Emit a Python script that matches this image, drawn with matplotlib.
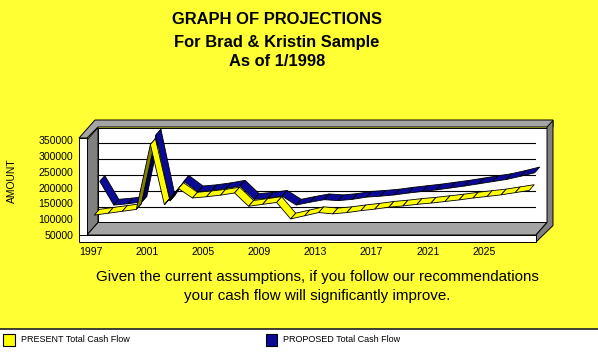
import matplotlib
matplotlib.use('Agg')
import matplotlib.pyplot as plt
import matplotlib.transforms as mtransforms
from matplotlib.patches import Polygon, Rectangle
from matplotlib.lines import Line2D
import numpy as np

# ---------------- data ----------------
years = list(range(1997, 2029))
present = [112000, 118000, 124000, 130000, 335000, 145000, 196000, 166000,
           170000, 175000, 182000, 140000, 146000, 152000, 100000, 110000,
           120000, 116000, 120000, 126000, 131000, 137000, 141000, 146000,
           150000, 155000, 160000, 166000, 171000, 176000, 183000, 190000]
proposed = [199000, 124000, 128000, 134000, 345000, 137000, 199000, 166000,
            170000, 176000, 184000, 142000, 146000, 152000, 124000, 133000,
            141000, 138000, 142000, 149000, 152000, 156000, 162000, 167000,
            172000, 178000, 184000, 191000, 198000, 205000, 215000, 226000]
tick_years = [1997, 2001, 2005, 2009, 2013, 2017, 2021, 2025]
y_ticks = [50000, 100000, 150000, 200000, 250000, 300000, 350000]
series_names = ['PRESENT Total Cash Flow', 'PROPOSED Total Cash Flow']
title_lines = ['GRAPH OF PROJECTIONS', 'For Brad & Kristin Sample', 'As of 1/1998']
note_lines = ['Given the current assumptions, if you follow our recommendations',
              'your cash flow will significantly improve.']

# ---------------- style ----------------
W, H = 598, 354
BG = '#FFFF33'
YEL, YEL_DARK = '#FFFF00', '#808000'
BLU, BLU_DARK = '#0A0A96', '#000050'
HATCH = '#A4A4A4'
SIDE = '#808080'
FONT = 'Liberation Sans'
DEPTH = (11.0, 12.5)   # pixel offset of back plane relative to front plane

plt.rcParams['font.family'] = [FONT, 'DejaVu Sans']

fig = plt.figure(figsize=(W / 100, H / 100), dpi=100)
fig.patch.set_facecolor(BG)


def fx(px):
    return px / W


def fy(py):
    return 1 - py / H


# front plane of the 3D box
AX_W = (536 - 87) / W
ax = fig.add_axes([fx(87), fy(235), AX_W, (235 - 140) / H])
ax.set_xlim(-0.5, len(years) - 0.5)
ax.set_ylim(50000, 350000)
ax.patch.set_visible(False)
for s in ax.spines.values():
    s.set_visible(False)

idx = np.arange(len(years))
ax.set_xticks([years.index(y) for y in tick_years])
ax.set_xticklabels([str(y) for y in tick_years], fontsize=7.6)
ax.set_yticks(y_ticks)
ax.set_yticklabels([str(v) for v in y_ticks], fontsize=7.6)
ax.tick_params(length=0)
ax.tick_params(axis='y', pad=10)
ax.tick_params(axis='x', pad=8.5)
for lab in ax.get_xticklabels():
    lab.set_transform(lab.get_transform() +
                      mtransforms.ScaledTranslation(-0.03, 0, fig.dpi_scale_trans))
ax.set_ylabel('AMOUNT', fontsize=7.4)
ax.yaxis.set_label_coords(fx(17 - 87) / AX_W, 0.57)

ID = mtransforms.IdentityTransform()


def disp(x, y, d=0.0, ox=0.0, oy=0.0):
    p = ax.transData.transform(np.column_stack([np.atleast_1d(x), np.atleast_1d(y)]).astype(float))
    p[:, 0] += d * DEPTH[0] + ox
    p[:, 1] += d * DEPTH[1] + oy
    return p


def poly(pts, fc, z, ec='black', lw=0.7):
    ax.add_patch(Polygon(np.asarray(pts), closed=True, fc=fc, ec=ec, lw=lw,
                         transform=ID, clip_on=False, zorder=z))


x0, x1 = -0.5, len(years) - 0.5
ylo, yhi = 50000, 350000

# back wall
bl = disp(x0, ylo, 1)[0]; br = disp(x1, ylo, 1)[0]
tl = disp(x0, yhi, 1)[0]; tr = disp(x1, yhi, 1)[0]
poly([bl, br, tr, tl], 'white', 1)
# gridlines on back wall
for v in y_ticks:
    p = disp([x0, x1], [v, v], 1)
    ax.add_line(Line2D(p[:, 0], p[:, 1], color='black', lw=0.8, transform=ID, zorder=1.5))

# left side wall (gray)
fl_b = disp(x0, ylo, 0)[0]; fl_t = disp(x0, yhi, 0)[0]
poly([fl_b, bl, tl, fl_t], SIDE, 2)
# floor (hatched look)
fr_b = disp(x1, ylo, 0)[0]
poly([fl_b, fr_b, br, bl], HATCH, 2)

# ribbons
def ribbon(vals, d0, d1, face, dark, z):
    f = disp(idx, vals, d0)
    b = disp(idx, vals, d1)
    for i in range(len(vals) - 1):
        seg = f[i + 1] - f[i]
        cross = seg[0] * DEPTH[1] - seg[1] * DEPTH[0]
        col = face if cross >= 0 else dark
        poly([f[i], f[i + 1], b[i + 1], b[i]], col, z + i * 0.001, lw=0.6)


ribbon(proposed, 0.52, 0.98, BLU, BLU_DARK, 3)
ribbon(present, 0.02, 0.48, YEL, YEL_DARK, 4)

# left wall front face (white column) with slanted ticks
WALL = 8
poly([fl_b + [-WALL, 0], fl_b, fl_t + [0, 2], fl_t + [-WALL, 2]], 'white', 5)
for v in y_ticks[1:-1]:
    p = disp([x0, x0], [v, v], 0, ox=-WALL) + np.array([[0, -3], [WALL, 4]])
    ax.add_line(Line2D(p[:, 0], p[:, 1], color='black', lw=0.7, transform=ID, zorder=5.1))

# top cap (hatched)
poly([fl_t + [-WALL, 2], fl_t + [0, 2], tl + [0, 0.5], tr + [6, 0.5],
      tr + [6, 7.5], tl + [-3, 7.5]], HATCH, 5)
# right wall + side of floor slab
poly([fr_b, br, tr + [0, 0.5], tr + [6, 7], br + [6, -3], fr_b + [0, -7]], SIDE, 5)
# floor front face with cells
FLOOR = 7
poly([fl_b + [-WALL, 0], fr_b, fr_b + [0, -FLOOR], fl_b + [-WALL, -FLOOR]], 'white', 6)
for k in range(len(years) + 1):
    p = disp([k - 0.5, k - 0.5], [ylo, ylo], 0, ox=-WALL) + np.array([[0, 0], [0, -FLOOR]])
    ax.add_line(Line2D(p[:, 0], p[:, 1], color='black', lw=0.7, transform=ID, zorder=6.1))

# ---------------- titles ----------------
for txt, base in zip(title_lines, [23.5, 46.5, 66.5]):
    fig.text(fx(277), fy(base), txt, ha='center', va='baseline',
             fontsize=11.9, fontweight='bold', color='black')
for txt, base in zip(note_lines, [281.5, 300]):
    fig.text(fx(317), fy(base), txt, ha='center', va='baseline',
             fontsize=10.9, color='black')

# ---------------- legend band ----------------
fig.add_artist(Rectangle((0, 0), 1, fy(329), transform=fig.transFigure,
                         fc='white', ec='none', zorder=0))
fig.add_artist(Line2D([0, 1], [fy(329), fy(329)], transform=fig.transFigure,
                      color='#303030', lw=1.3))
for name, col, xs in zip(series_names, [YEL, BLU], [3.5, 265.5]):
    fig.add_artist(Rectangle((fx(xs), fy(345.5)), 11.5 / W, 12 / H,
                             transform=fig.transFigure, fc=col, ec='black', lw=0.8))
    fig.text(fx(xs + 17.5), fy(340), name, ha='left', va='center', fontsize=6.5)

fig.savefig('out.png', dpi=100, facecolor=fig.get_facecolor())
